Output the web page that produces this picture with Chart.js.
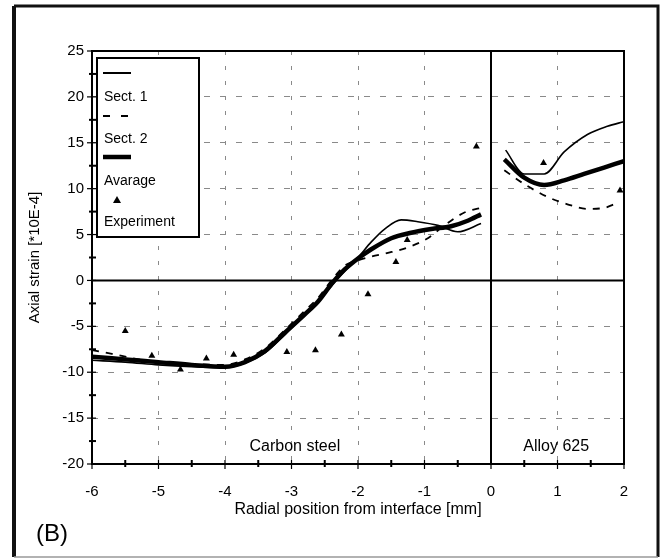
<!DOCTYPE html>
<html>
<head>
<meta charset="utf-8">
<script src="https://cdn.jsdelivr.net/npm/chart.js@4.4.1/dist/chart.umd.min.js"></script>
<style>
  html, body { margin: 0; padding: 0; background: #fff; }
  #wrap { width: 665px; height: 559px; }
</style>
</head>
<body>
<div id="wrap"><canvas id="myChart" width="665" height="559"></canvas></div>
<script>
// values (null = gap between carbon steel and alloy 625)
const sect1X = [-6, -5.5, -5, -4.5, -4, -3.7, -3.4, -3.1, -2.8, -2.6, -2.4, -2.2, -2.0, -1.8, -1.6, -1.35, -1.1, -0.8, -0.5, -0.15, 0, 0.22, 0.5, 0.8, 1.1, 1.45, 1.75, 2.0];
const sect1Y = [-8.7, -8.9, -9.2, -9.4, -9.5, -9.0, -7.9, -5.9, -3.8, -2.4, -0.6, 1.0, 2.5, 4.2, 5.6, 6.6, 6.4, 6.0, 5.3, 6.2, null, 14.2, 11.6, 11.6, 14.0, 15.9, 16.8, 17.3];

const sect2X = [-6, -5.7, -5.3, -5, -4.5, -4, -3.7, -3.4, -3.1, -2.8, -2.6, -2.4, -2.2, -2.0, -1.8, -1.55, -1.25, -0.95, -0.7, -0.4, -0.15, 0, 0.2, 0.5, 0.85, 1.15, 1.45, 1.7, 1.85];
const sect2Y = [-7.6, -8.0, -8.6, -8.9, -9.1, -9.2, -8.6, -7.4, -5.4, -3.3, -1.9, 0.0, 1.6, 2.2, 2.6, 3.0, 3.6, 4.6, 6.0, 7.4, 7.9, null, 12.0, 10.5, 9.1, 8.3, 7.8, 7.9, 8.3];

const avgX = [-6, -5.5, -5, -4.5, -4, -3.7, -3.4, -3.1, -2.8, -2.6, -2.4, -2.2, -2.0, -1.8, -1.5, -1.2, -0.9, -0.6, -0.35, -0.15, 0, 0.2, 0.5, 0.8, 1.1, 1.4, 1.7, 2.0];
const avgY = [-8.3, -8.6, -8.9, -9.2, -9.4, -8.9, -7.7, -5.7, -3.7, -2.3, -0.4, 1.2, 2.4, 3.4, 4.6, 5.2, 5.6, 5.9, 6.5, 7.2, null, 13.2, 11.2, 10.4, 10.9, 11.6, 12.3, 13.0];

const expX = [-5.5, -5.1, -4.67, -4.28, -3.87, -3.07, -2.64, -2.25, -1.85, -1.43, -1.26, -0.22, 0.79, 1.94];
const expY = [-5.5, -8.2, -9.7, -8.5, -8.1, -7.8, -7.6, -5.9, -1.5, 2.0, 4.4, 14.6, 12.8, 9.8];

const xTicks = [-6, -5, -4, -3, -2, -1, 0, 1, 2];
const yTicks = [-20, -15, -10, -5, 0, 5, 10, 15, 20, 25];
const legendLabels = ['Sect. 1', 'Sect. 2', 'Avarage', 'Experiment'];
const regionLabels = ['Carbon steel', 'Alloy 625'];

const FONT = "'Liberation Sans', Arial, Helvetica, sans-serif";

function pts(xs, ys) {
    return xs.map((x, i) => ({ x: x, y: ys[i] }));
}

// frame, zero lines, plot border, tick marks, legend box, text
const decor = {
    id: 'decor',
    beforeDraw(chart) {
        const c = chart.ctx;
        c.save();
        c.fillStyle = '#fff';
        c.fillRect(0, 0, chart.width, chart.height);
        c.strokeStyle = '#111';
        c.lineWidth = 4;
        c.beginPath(); c.moveTo(14, 557); c.lineTo(14, 6); c.stroke();
        c.lineWidth = 3;
        c.beginPath(); c.moveTo(14, 6); c.lineTo(658, 6); c.lineTo(658, 557); c.stroke();
        c.strokeStyle = '#999';
        c.lineWidth = 1.5;
        c.beginPath(); c.moveTo(14, 557); c.lineTo(658, 557); c.stroke();
        c.restore();
    },
    beforeDatasetsDraw(chart) {
        const c = chart.ctx, a = chart.chartArea;
        const xs = chart.scales.x, ys = chart.scales.y;
        c.save();
        c.strokeStyle = '#000';
        c.lineWidth = 2;
        const x0 = xs.getPixelForValue(0), y0 = ys.getPixelForValue(0);
        c.beginPath(); c.moveTo(x0, a.top); c.lineTo(x0, a.bottom); c.stroke();
        c.beginPath(); c.moveTo(a.left, y0); c.lineTo(a.right, y0); c.stroke();
        c.strokeRect(a.left, a.top, a.right - a.left, a.bottom - a.top);
        // tick marks, majors and minors
        for (let v = -6; v <= 2.001; v += 0.5) {
            const px = xs.getPixelForValue(v);
            const major = Math.abs(v - Math.round(v)) < 1e-6;
            c.lineWidth = major ? 1.2 : 2;
            c.beginPath(); c.moveTo(px, a.bottom - 4); c.lineTo(px, a.bottom + (major ? 5 : 3)); c.stroke();
        }
        for (let v = -20; v <= 25.001; v += 2.5) {
            const py = ys.getPixelForValue(v);
            const major = Math.abs(v / 5 - Math.round(v / 5)) < 1e-6;
            c.lineWidth = major ? 1.2 : 2;
            c.beginPath(); c.moveTo(a.left - (major ? 5 : 3), py); c.lineTo(a.left + 4, py); c.stroke();
        }
        c.restore();
    },
    afterDraw(chart) {
        const c = chart.ctx;
        const xs = chart.scales.x, ys = chart.scales.y;
        c.save();
        // legend box
        c.fillStyle = '#fff';
        c.fillRect(97, 58, 102, 179);
        c.strokeStyle = '#000';
        c.lineWidth = 2;
        c.strokeRect(97, 58, 102, 179);
        c.beginPath(); c.lineWidth = 2; c.moveTo(103, 73); c.lineTo(131, 73); c.stroke();
        c.beginPath(); c.lineWidth = 2; c.setLineDash([7, 11]); c.moveTo(103, 116); c.lineTo(132, 116); c.stroke();
        c.setLineDash([]);
        c.beginPath(); c.lineWidth = 4.5; c.moveTo(103, 157); c.lineTo(131, 157); c.stroke();
        c.fillStyle = '#000';
        c.beginPath(); c.moveTo(117, 196); c.lineTo(121, 203); c.lineTo(113, 203); c.closePath(); c.fill();
        c.font = '14px ' + FONT;
        c.textBaseline = 'middle';
        c.textAlign = 'left';
        c.fillText(legendLabels[0], 104, 97);
        c.fillText(legendLabels[1], 104, 139);
        c.fillText(legendLabels[2], 104, 181);
        c.fillText(legendLabels[3], 104, 222);
        // region labels
        c.font = '16px ' + FONT;
        c.textAlign = 'center';
        c.fillText(regionLabels[0], xs.getPixelForValue(-2.95), ys.getPixelForValue(-18.1));
        c.fillText(regionLabels[1], xs.getPixelForValue(0.98), ys.getPixelForValue(-18.1));
        // panel letter
        c.font = '24px ' + FONT;
        c.textAlign = 'left';
        c.fillText('(B)', 36, 534);
        c.restore();
    }
};

const ctx = document.getElementById('myChart');
const lineBase = { showLine: true, pointRadius: 0, borderColor: '#000', backgroundColor: '#000', cubicInterpolationMode: 'monotone', spanGaps: false };

new Chart(ctx, {
    type: 'scatter',
    data: {
        datasets: [
            Object.assign({ label: legendLabels[0], data: pts(sect1X, sect1Y), borderWidth: 1.6 }, lineBase),
            Object.assign({ label: legendLabels[1], data: pts(sect2X, sect2Y), borderWidth: 1.8, borderDash: [7, 7] }, lineBase),
            Object.assign({ label: legendLabels[2], data: pts(avgX, avgY), borderWidth: 4.5 }, lineBase),
            { label: legendLabels[3], data: pts(expX, expY), showLine: false, pointStyle: 'triangle', pointRadius: 4, backgroundColor: '#000', borderColor: '#000', borderWidth: 0 }
        ]
    },
    options: {
        responsive: false,
        animation: false,
        layout: { padding: { left: 14, right: 41, top: 51, bottom: 35 } },
        plugins: { legend: { display: false }, tooltip: { enabled: false } },
        scales: {
            x: {
                type: 'linear', min: -6, max: 2,
                afterFit: s => { s.height = 60; },
                afterBuildTicks: s => { s.ticks = xTicks.map(v => ({ value: v })); },
                ticks: { font: { family: FONT, size: 15 }, color: '#000', padding: 19 },
                grid: { drawTicks: false, lineWidth: 1, color: c => (c.tick && (c.tick.value === 0 || c.tick.value === -6 || c.tick.value === 2)) ? 'rgba(0,0,0,0)' : '#8a8a8a' },
                border: { display: false, dash: [4, 11] },
                title: { display: true, text: 'Radial position from interface [mm]', font: { family: FONT, size: 16 }, color: '#000', padding: { top: 0, bottom: 5 } }
            },
            y: {
                type: 'linear', min: -20, max: 25,
                afterFit: s => { s.width = 78; },
                afterBuildTicks: s => { s.ticks = yTicks.map(v => ({ value: v })); },
                ticks: { font: { family: FONT, size: 15 }, color: '#000', padding: 8 },
                grid: { drawTicks: false, lineWidth: 1, color: c => (c.tick && (c.tick.value === 0 || c.tick.value === -20 || c.tick.value === 25)) ? 'rgba(0,0,0,0)' : '#8a8a8a' },
                border: { display: false, dash: [6, 10] },
                title: { display: true, text: 'Axial strain [*10E-4]', font: { family: FONT, size: 15 }, color: '#000', padding: { top: 12, bottom: 0 } }
            }
        }
    },
    plugins: [decor]
});
</script>
</body>
</html>
